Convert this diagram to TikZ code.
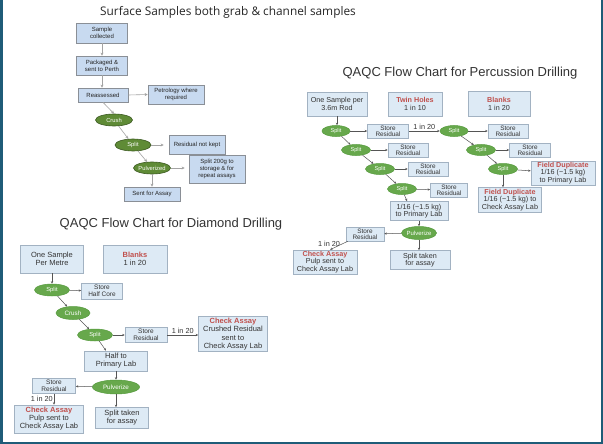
\documentclass[tikz,border=0pt]{standalone}
\usepackage{fontspec}
\setmainfont{Liberation Sans}
\newfontfamily\headfont{Open Sans}
\usetikzlibrary{arrows.meta,shapes.geometric}
\definecolor{frameteal}{HTML}{1F5C78}
\definecolor{surfblue}{HTML}{C8DAF0}
\definecolor{surfedge}{HTML}{8A8F96}
\definecolor{surfgreen}{HTML}{5F8B36}
\definecolor{surfdark}{HTML}{3C5A22}
\definecolor{surfline}{HTML}{A3A3A3}
\definecolor{qcblue}{HTML}{DDEAF5}
\definecolor{qcedge}{HTML}{A2B2C2}
\definecolor{qcgreen}{HTML}{67A84C}
\definecolor{qcgreenedge}{HTML}{549A3C}
\definecolor{qcline}{HTML}{555555}
\definecolor{qctext}{HTML}{333333}
\definecolor{alertred}{HTML}{C0504D}
\def\alert#1{\textcolor{alertred}{\textbf{#1}}}
\tikzset{
	wh/.style 2 args={minimum width=#1, minimum height=#2},
	surfbox/.style={draw=surfedge, fill=surfblue, line width=0.7pt, align=center, inner sep=1pt, text=black!85, font=\fontsize{6}{7}\selectfont},
	surfoval/.style={ellipse, draw=surfdark, fill=surfgreen, line width=0.6pt, inner xsep=-5pt, inner ysep=-1pt, text=white, font=\fontsize{5.8}{6}\selectfont},
	qcbox/.style={draw=qcedge, fill=qcblue, line width=0.6pt, align=center, inner sep=1pt, text=qctext, font=\fontsize{7.2}{7.6}\selectfont},
	smallbox/.style={qcbox, font=\fontsize{6.4}{6.4}\selectfont},
	dbox/.style={qcbox, font=\fontsize{7.5}{8}\selectfont},
	dsmall/.style={qcbox, font=\fontsize{6.5}{6.8}\selectfont},
	qcoval/.style={ellipse, draw=qcgreenedge, fill=qcgreen, line width=0.5pt, inner xsep=-4pt, inner ysep=-1pt, text=white, font=\fontsize{5.6}{6}\selectfont},
	surfarrow/.style={draw=surfline, line width=0.6pt, -{Stealth[length=3pt,width=3pt]}},
	qcarrow/.style={draw=qcline, line width=0.5pt, -{Stealth[length=2.5pt,width=2.2pt]}},
	tally/.style={text=qctext, font=\fontsize{7.3}{8}\selectfont, inner sep=1pt},
	charttitle/.style={text=black!80, font=\fontsize{13}{15}\selectfont}
}

\begin{document}
\begin{tikzpicture}[x=1pt, y=-1pt]
	%%%%% START %%%%%
	\fill[white] (0, 0) rectangle (603, 444);
	\useasboundingbox (0, 0) rectangle (603, 444);
	\draw[frameteal, line width=2.5pt] (1.25, 0) -- (1.25, 442.75) -- (601.75, 442.75) -- (601.75, 0);
	
	% surface samples
	\node[text=black!85, font=\headfont\fontsize{11.85}{14}\selectfont] (stitle) at (228, 12) {Surface Samples both grab \& channel samples};
	\node[surfbox, wh={51}{20}] (ss1) at (102, 33) {Sample\\collected};
	\node[surfbox, wh={51}{19}] (ss2) at (102, 65.5) {Packaged \&\\sent to Perth};
	\node[surfbox, wh={50}{14}] (ss3) at (103, 95) {Reassessed};
	\node[surfbox, wh={56}{19}] (ss4) at (176, 94.5) {Petrology where\\required};
	\node[surfoval, wh={37}{12}] (scrush) at (114, 120) {Crush};
	\node[surfoval, wh={36}{12}] (ssplit) at (133, 145) {Split};
	\node[surfbox, wh={56}{19}] (ss5) at (197, 144.5) {Residual not kept};
	\node[surfoval, wh={37}{12}] (spulv) at (152, 168) {Pulverized};
	\node[surfbox, wh={56}{28}] (ss6) at (217, 169) {Split 200g to\\storage \& for\\repeat assays};
	\node[surfbox, wh={56}{14}] (ss7) at (152, 194) {Sent for Assay};
	
	\draw[surfarrow] (ss1.south) -- (ss2.north);
	\draw[surfarrow] (ss2.south) -- (ss2.south |- ss3.north);
	\draw[surfarrow] (ss3.east) -- (ss4.west);
	\draw[surfarrow] (ss3.south) -- (scrush.north);
	\draw[surfarrow] (scrush) -- (ssplit);
	\draw[surfarrow, shorten >=5pt] (ssplit.east) -- (ssplit.east -| ss5.west);
	\draw[surfarrow] (ssplit) -- (spulv);
	\draw[surfarrow, shorten >=4pt] (spulv.east) -- (spulv.east -| ss6.west);
	\draw[surfarrow] (spulv.south) -- (ss7.north);
	
	% percussion drilling
	\node[charttitle] (ptitle) at (460, 73) {QAQC Flow Chart for Percussion Drilling};
	\node[qcbox, wh={60}{24}] (p1) at (337, 104) {One Sample per\\3.6m Rod};
	\node[qcbox, wh={54}{24}] (ptwin) at (415, 104) {\alert{Twin Holes}\\1 in 10};
	\node[qcbox, wh={62}{25}] (pblank) at (499, 104) {\alert{Blanks}\\1 in 20};
	\node[qcoval, wh={28}{11}] (ps1) at (336, 131) {Split};
	\node[smallbox, wh={41}{14}] (pst1) at (388, 131) {Store\\Residual};
	\node[qcoval, wh={29}{11}] (ps2) at (356, 150) {Split};
	\node[smallbox, wh={40}{14}] (pst2) at (408, 150) {Store\\Residual};
	\node[qcoval, wh={29}{11}] (ps3) at (380, 169) {Split};
	\node[smallbox, wh={40}{14}] (pst3) at (428, 169) {Store\\Residual};
	\node[qcoval, wh={29}{11}] (ps4) at (402, 189) {Split};
	\node[smallbox, wh={37}{14}] (pst4) at (449, 190) {Store\\Residual};
	\node[qcbox, wh={58}{19}] (plab) at (419, 211) {1/16 (\textasciitilde1.5 kg)\\to Primary Lab};
	\node[qcoval, wh={35}{13}, font=\fontsize{6}{6}\selectfont] (ppulv) at (419, 233) {Pulverize};
	\node[smallbox, wh={38}{14}] (pst7) at (365, 234) {Store\\Residual};
	\node[qcbox, wh={64}{24}] (pchk) at (325, 262) {\alert{Check Assay}\\Pulp sent to\\Check Assay Lab};
	\node[qcbox, wh={60}{19}] (ptaken) at (420, 260) {Split taken\\for assay};
	\node[qcoval, wh={28}{11}] (pr1) at (454, 131) {Split};
	\node[smallbox, wh={40}{14}] (pst5) at (508, 131) {Store\\Residual};
	\node[qcoval, wh={29}{11}] (pr2) at (481, 150) {Split};
	\node[smallbox, wh={41}{14}] (pst6) at (530, 150) {Store\\Residual};
	\node[qcoval, wh={29}{11}] (pr3) at (503, 169) {Split};
	\node[qcbox, wh={64}{24}] (pfd1) at (563, 173) {\alert{Field Duplicate}\\1/16 (\textasciitilde1.5 kg)\\to Primary Lab};
	\node[qcbox, wh={63}{25}] (pfd2) at (510, 200) {\alert{Field Duplicate}\\1/16 (\textasciitilde1.5 kg) to\\Check Assay Lab};
	
	\draw[qcarrow] (p1.south) -- (p1.south |- ps1.north);
	\draw[qcarrow] (ps1) -- (pst1);
	\draw[qcarrow] (pst1.east) -- node[tally, above] (pt1) {1 in 20} (pr1.west);
	\draw[qcarrow] (ps1) -- (ps2);
	\draw[qcarrow] (ps2) -- (pst2);
	\draw[qcarrow] (ps2) -- (ps3);
	\draw[qcarrow] (ps3) -- (pst3);
	\draw[qcarrow] (ps3) -- (ps4);
	\draw[qcarrow] (ps4) -- (pst4);
	\draw[qcarrow] (ps4) -- ([xshift=-12pt]plab.north);
	\draw[qcarrow] (plab.south) -- (ppulv.north);
	\draw[qcarrow] (ppulv) -- (pst7);
	\draw[qcarrow] ([xshift=2pt]pst7.south west) -- node[tally, left, pos=0.25, xshift=-2pt] (pt2) {1 in 20} ([xshift=5pt]pchk.north);
	\draw[qcarrow] (ppulv.south) -- (ppulv.south |- ptaken.north);
	\draw[qcarrow] (pr1) -- (pst5);
	\draw[qcarrow] (pr1) -- (pr2);
	\draw[qcarrow] (pr2) -- (pst6);
	\draw[qcarrow] (pr2) -- (pr3);
	\draw[qcarrow] (pr3) -- (pfd1);
	\draw[qcarrow] (pr3.south) -- (pr3.south |- pfd2.north);
	
	% diamond drilling
	\node[charttitle] (dtitle) at (171, 224) {QAQC Flow Chart for Diamond Drilling};
	\node[dbox, wh={63}{28}] (d1) at (52, 259) {One Sample\\Per Metre};
	\node[dbox, wh={64}{28}] (dblank) at (135, 259) {\alert{Blanks}\\1 in 20};
	\node[qcoval, wh={35}{12}, font=\fontsize{5.8}{6}\selectfont] (ds1) at (52, 290) {Split};
	\node[dsmall, wh={41}{16}] (dhc) at (102, 291) {Store\\Half Core};
	\node[qcoval, wh={34}{13}, font=\fontsize{6.3}{6}\selectfont] (dcrush) at (73, 313) {Crush};
	\node[qcoval, wh={35}{12}, font=\fontsize{5.8}{6}\selectfont] (ds2) at (95, 335) {Split};
	\node[dsmall, wh={42}{15}] (dst1) at (146, 335) {Store\\Residual};
	\node[dbox, wh={69}{35}, font=\fontsize{7.5}{8.3}\selectfont] (dchk1) at (233, 334) {\alert{Check Assay}\\Crushed Residual\\sent to\\Check Assay Lab};
	\node[dbox, wh={63}{20}] (dhalf) at (116, 361) {Half to\\Primary Lab};
	\node[qcoval, wh={47}{14}, font=\fontsize{6.3}{6}\selectfont] (dpulv) at (116, 387) {Pulverize};
	\node[dsmall, wh={43}{15}] (dst2) at (54, 386) {Store\\Residual};
	\node[dbox, wh={69}{28}] (dchk2) at (49, 419) {\alert{Check Assay}\\Pulp sent to\\Check Assay Lab};
	\node[dbox, wh={53}{21}] (dtaken) at (122, 418) {Split taken\\for assay};
	
	\draw[qcarrow] (d1.south) -- (ds1.north);
	\draw[qcarrow] (ds1) -- (dhc);
	\draw[qcarrow] (ds1) -- (dcrush);
	\draw[qcarrow] (dcrush) -- (ds2);
	\draw[qcarrow] (ds2) -- (dst1);
	\draw[qcarrow] (dst1.east) -- node[tally, above] (dt1) {1 in 20} (dchk1.west |- dst1.east);
	\draw[qcarrow] (ds2) -- ([xshift=-10pt]dhalf.north);
	\draw[qcarrow] (dhalf.south) -- (dpulv.north);
	\draw[qcarrow] (dpulv) -- (dst2);
	\draw[qcarrow] (dst2.south) -- node[tally, left] (dt2) {1 in 20} (dst2.south |- dchk2.north);
	\draw[qcarrow] (dpulv.south) -- (dpulv.south |- dtaken.north);
	%%%%% END %%%%%
\end{tikzpicture}
\end{document}
